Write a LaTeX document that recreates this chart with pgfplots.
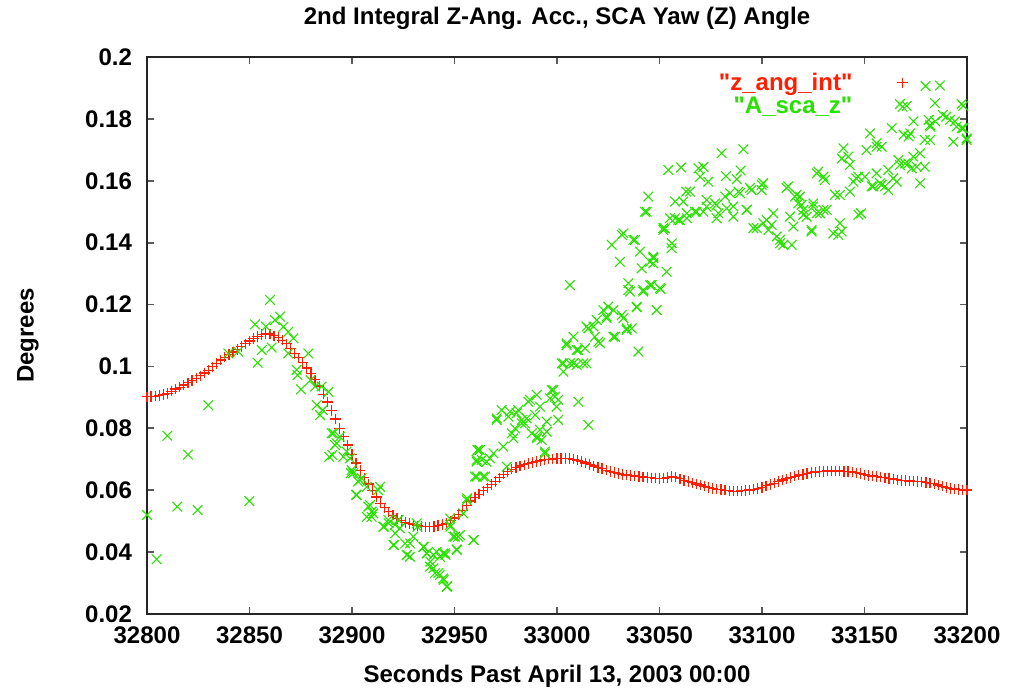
\documentclass[border=0pt]{standalone}
\usepackage{fontspec}
\setmainfont{Liberation Sans}[Ligatures=TeXOff]
\usepackage{pgfplots}
\usepackage{pgfplotstable}
\pgfplotsset{compat=1.18}
\definecolor{zred}{RGB}{255,30,0}
\definecolor{zgreen}{RGB}{40,225,0}

\pgfplotstableread{
x y
32800 0.0902
32802 0.0903
32804 0.0904
32806 0.0906
32808 0.0909
32810 0.0913
32812 0.0920
32814 0.0927
32816 0.0933
32818 0.0940
32820 0.0947
32822 0.0955
32824 0.0962
32826 0.0970
32828 0.0979
32830 0.0988
32832 0.0999
32834 0.1010
32836 0.1021
32838 0.1030
32840 0.1039
32842 0.1047
32844 0.1055
32846 0.1064
32848 0.1073
32850 0.1082
32852 0.1090
32854 0.1097
32856 0.1103
32858 0.1107
32860 0.1105
32862 0.1099
32864 0.1093
32866 0.1085
32868 0.1073
32870 0.1059
32872 0.1042
32874 0.1028
32876 0.1012
32878 0.0995
32880 0.0976
32882 0.0957
32884 0.0937
32886 0.0910
32888 0.0885
32890 0.0858
32892 0.0830
32894 0.0800
32896 0.0773
32898 0.0746
32900 0.0715
32902 0.0688
32904 0.0664
32906 0.0640
32908 0.0620
32910 0.0600
32912 0.0578
32914 0.0558
32916 0.0543
32918 0.0530
32920 0.0519
32922 0.0509
32924 0.0502
32926 0.0496
32928 0.0492
32930 0.0488
32932 0.0485
32934 0.0483
32936 0.0482
32938 0.0482
32940 0.0483
32942 0.0486
32944 0.0489
32946 0.0493
32948 0.0501
32950 0.0510
32952 0.0522
32954 0.0535
32956 0.0550
32958 0.0565
32960 0.0577
32962 0.0587
32964 0.0598
32966 0.0608
32968 0.0618
32970 0.0628
32972 0.0640
32974 0.0652
32976 0.0661
32978 0.0668
32980 0.0673
32982 0.0678
32984 0.0682
32986 0.0686
32988 0.0690
32990 0.0693
32992 0.0696
32994 0.0698
32996 0.0700
32998 0.0701
33000 0.0702
33002 0.0703
33004 0.0703
33006 0.0702
33008 0.0700
33010 0.0697
33012 0.0693
33014 0.0688
33016 0.0683
33018 0.0678
33020 0.0674
33022 0.0670
33024 0.0665
33026 0.0661
33028 0.0657
33030 0.0654
33032 0.0651
33034 0.0649
33036 0.0647
33038 0.0646
33040 0.0644
33042 0.0643
33044 0.0641
33046 0.0640
33048 0.0639
33050 0.0638
33052 0.0639
33054 0.0641
33056 0.0644
33058 0.0642
33060 0.0637
33062 0.0632
33064 0.0628
33066 0.0624
33068 0.0620
33070 0.0617
33072 0.0613
33074 0.0609
33076 0.0606
33078 0.0603
33080 0.0602
33082 0.0600
33084 0.0598
33086 0.0597
33088 0.0597
33090 0.0598
33092 0.0599
33094 0.0601
33096 0.0603
33098 0.0606
33100 0.0609
33102 0.0614
33104 0.0618
33106 0.0623
33108 0.0628
33110 0.0633
33112 0.0637
33114 0.0641
33116 0.0645
33118 0.0649
33120 0.0651
33122 0.0654
33124 0.0657
33126 0.0659
33128 0.0660
33130 0.0661
33132 0.0662
33134 0.0662
33136 0.0662
33138 0.0662
33140 0.0661
33142 0.0660
33144 0.0659
33146 0.0656
33148 0.0654
33150 0.0650
33152 0.0648
33154 0.0646
33156 0.0644
33158 0.0642
33160 0.0640
33162 0.0638
33164 0.0636
33166 0.0634
33168 0.0632
33170 0.0631
33172 0.0630
33174 0.0629
33176 0.0628
33178 0.0627
33180 0.0625
33182 0.0623
33184 0.0621
33186 0.0617
33188 0.0613
33190 0.0609
33192 0.0606
33194 0.0604
33196 0.0602
33198 0.0601
33200 0.0601
}\zangint

\pgfplotstableread{
x y
32800.0 0.0520
32804.7 0.0377
32809.9 0.0776
32814.8 0.0547
32820.0 0.0715
32824.7 0.0536
32829.9 0.0875
32839.7 0.1042
32844.5 0.1048
32849.9 0.0565
32852.7 0.1136
32854.0 0.1012
32856.0 0.1053
32858.0 0.1129
32860.0 0.1215
32860.8 0.1061
32862.4 0.1150
32864.9 0.1161
32866.5 0.1128
32868.9 0.1112
32871.4 0.1091
32868.9 0.1042
32878.7 0.1042
32873.0 0.0989
32873.4 0.0972
32875.1 0.0926
32879.8 0.0956
32882.0 0.0935
32885.2 0.0935
32888.5 0.0918
32882.8 0.0875
32884.4 0.0843
32885.7 0.0859
32890.1 0.0784
32888.9 0.0708
32891.7 0.0746
32894.1 0.0773
32895.8 0.0708
32899.0 0.0703
32899.4 0.0655
32902.0 0.0585
32903.0 0.0628
32900.6 0.0655
32903.9 0.0633
32908.0 0.0547
32907.2 0.0514
32910.4 0.0525
32913.7 0.0611
32915.3 0.0482
32917.7 0.0504
32920.2 0.0423
32921.0 0.0488
32922.6 0.0504
32925.9 0.0428
32926.7 0.0391
32928.3 0.0385
32929.9 0.0450
32931.6 0.0493
32934.8 0.0417
32936.4 0.0396
32938.0 0.0353
32939.7 0.0391
32940.5 0.0332
32942.9 0.0385
32942.9 0.0326
32944.5 0.0315
32945.4 0.0396
32946.5 0.0290
32947.8 0.0488
32950.2 0.0450
32951.0 0.0409
32952.7 0.0455
32954.3 0.0525
32956.0 0.0568
32959.2 0.0439
32960.0 0.0644
32960.8 0.0698
32961.2 0.0730
32890.9 0.0784
32892.5 0.0752
32890.4 0.0714
32897.4 0.0725
32899.8 0.0665
32902.3 0.0585
32904.7 0.0639
32907.2 0.0611
32908.8 0.0552
32909.6 0.0531
32912.8 0.0600
32909.6 0.0514
32915.6 0.0482
32917.9 0.0493
32921.0 0.0461
32923.4 0.0477
32920.5 0.0423
32926.9 0.0391
32928.3 0.0428
32931.9 0.0482
32935.1 0.0417
32936.6 0.0396
32938.2 0.0369
32941.3 0.0401
32945.6 0.0391
32939.7 0.0348
32942.1 0.0332
32944.7 0.0310
32946.2 0.0288
32948.0 0.0482
32951.2 0.0407
32951.8 0.0450
32956.2 0.0574
32959.4 0.0439
32961.6 0.0730
32963.3 0.0698
32960.8 0.0644
32965.6 0.0692
32964.9 0.0644
32944.5 0.0396
32949.4 0.0450
32947.8 0.0509
32962.4 0.0730
32960.8 0.0692
32967.3 0.0703
32964.0 0.0644
32970.6 0.0832
32973.0 0.0859
32973.8 0.0741
32975.5 0.0676
32978.0 0.0784
32980.3 0.0849
32982.8 0.0816
32985.2 0.0832
32986.8 0.0892
32990.1 0.0773
32991.7 0.0795
32995.0 0.0822
32994.1 0.0719
32997.4 0.0924
32999.0 0.0902
33000.6 0.0827
33003.1 0.1010
33004.7 0.1075
33006.3 0.1263
33008.0 0.1010
33009.6 0.1053
33010.4 0.0886
33012.8 0.1010
33015.3 0.0811
33015.3 0.1123
33017.8 0.1129
33020.2 0.1080
33022.6 0.1182
33024.2 0.1156
33027.5 0.1096
33031.6 0.1166
33034.0 0.1123
33036.5 0.1123
33039.7 0.1048
33026.7 0.1393
33030.7 0.1338
33031.6 0.1425
33034.8 0.1247
33037.2 0.1409
33040.5 0.1371
33041.3 0.1317
33038.9 0.1193
33043.7 0.1500
33045.4 0.1338
33047.0 0.1355
33042.1 0.1247
33045.4 0.1263
33050.2 0.1253
33048.6 0.1182
33053.5 0.1306
33052.7 0.1446
33056.0 0.1398
33055.1 0.1479
33060.0 0.1473
33063.3 0.1495
33068.1 0.1500
33073.0 0.1516
33047.0 0.1333
33034.8 0.1269
33035.6 0.1242
33042.1 0.1242
33046.2 0.1263
33050.6 0.1250
33038.9 0.1191
33025.0 0.1193
33027.5 0.1182
33032.4 0.1156
33019.4 0.1150
33024.2 0.1161
33014.4 0.1129
33018.5 0.1096
33021.0 0.1075
33028.3 0.1096
33034.0 0.1118
33008.0 0.1096
33004.7 0.1069
33010.4 0.1053
33013.7 0.1059
33002.3 0.1010
33003.1 0.0983
33006.3 0.1010
33009.6 0.1005
33014.4 0.1010
32998.2 0.0924
32996.6 0.0897
33000.6 0.0892
32999.8 0.0870
32990.1 0.0908
32986.0 0.0886
32991.7 0.0870
32989.3 0.0843
32981.1 0.0859
32977.1 0.0854
32970.6 0.0827
32976.3 0.0838
32982.8 0.0827
32984.4 0.0816
32979.5 0.0800
32987.7 0.0784
32990.3 0.0768
32995.0 0.0789
32992.5 0.0762
32978.7 0.0768
32969.0 0.0719
32994.1 0.0725
33080.3 0.1689
33090.9 0.1702
33054.3 0.1635
33060.5 0.1643
33069.0 0.1640
33071.4 0.1645
33069.8 0.1613
33073.8 0.1597
33082.4 0.1615
33087.7 0.1605
33089.6 0.1633
33044.5 0.1549
33042.9 0.1500
33051.9 0.1447
33057.6 0.1479
33061.6 0.1533
33064.9 0.1565
33057.6 0.1533
33059.2 0.1473
33063.3 0.1479
33067.3 0.1500
33073.0 0.1538
33077.9 0.1522
33084.4 0.1560
33088.5 0.1565
33082.8 0.1511
33078.7 0.1495
33086.0 0.1484
33077.9 0.1479
33092.5 0.1506
33094.9 0.1570
33100.6 0.1592
33099.8 0.1570
33097.4 0.1447
33095.8 0.1447
33102.3 0.1473
33104.7 0.1457
33105.5 0.1495
33107.2 0.1420
33108.8 0.1409
33110.4 0.1393
33114.5 0.1393
33113.7 0.1484
33115.3 0.1452
33112.0 0.1577
33116.9 0.1555
33119.3 0.1522
33120.2 0.1490
33121.8 0.1484
33124.2 0.1441
33125.0 0.1527
33126.7 0.1624
33038.0 0.1409
33047.0 0.1350
33032.4 0.1430
33063.0 0.1565
33071.4 0.1500
33077.1 0.1527
33082.0 0.1549
33086.0 0.1517
33089.3 0.1560
33094.1 0.1577
33099.8 0.1587
33092.7 0.1506
33100.6 0.1463
33103.1 0.1441
33108.8 0.1398
33112.8 0.1582
33116.1 0.1549
33117.7 0.1527
33120.2 0.1506
33124.2 0.1436
33126.7 0.1495
33130.0 0.1506
33134.8 0.1430
33138.9 0.1436
33127.5 0.1630
33130.0 0.1613
33135.6 0.1555
33138.9 0.1672
33142.1 0.1678
33142.9 0.1651
33144.6 0.1597
33147.0 0.1613
33150.2 0.1613
33148.3 0.1495
33151.0 0.1699
33155.9 0.1721
33158.4 0.1710
33163.3 0.1770
33152.7 0.1753
33161.6 0.1635
33164.0 0.1608
33158.4 0.1587
33154.3 0.1582
33167.3 0.1651
33169.8 0.1656
33171.4 0.1656
33173.0 0.1640
33175.5 0.1645
33177.1 0.1592
33173.8 0.1678
33177.1 0.1689
33169.1 0.1749
33171.5 0.1743
33173.9 0.1792
33181.3 0.1797
33182.1 0.1775
33184.5 0.1792
33179.4 0.1732
33182.0 0.1732
33167.3 0.1848
33170.6 0.1842
33179.8 0.1906
33186.8 0.1908
33184.4 0.1851
33188.2 0.1813
33189.9 0.1807
33191.7 0.1797
33193.3 0.1726
33197.4 0.1848
33197.4 0.1770
33199.8 0.1732
33194.1 0.1792
33051.9 0.1441
33055.9 0.1382
33198.2 0.1842
33194.9 0.1775
33198.2 0.1770
33199.8 0.1737
33182.0 0.1780
33172.3 0.1753
33155.9 0.1710
33139.7 0.1705
33130.7 0.1603
33118.5 0.1549
33145.9 0.1608
33155.9 0.1624
33157.6 0.1592
33153.5 0.1582
33160.0 0.1582
33161.6 0.1570
33165.7 0.1597
33166.5 0.1667
33179.4 0.1645
33142.9 0.1565
33138.0 0.1554
33147.0 0.1490
33138.0 0.1463
33137.2 0.1425
33125.0 0.1517
33128.3 0.1495
33131.6 0.1506
}\ascaz

\begin{document}
\begin{tikzpicture}
\begin{axis}[
  at={(0,0)}, anchor=south west,
  scale only axis,
  width=410pt, height=278.5pt,
  xmin=32800, xmax=33200, ymin=0.02, ymax=0.2,
  xtick={32800,32850,32900,32950,33000,33050,33100,33150,33200},
  ytick={0.02,0.04,0.06,0.08,0.1,0.12,0.14,0.16,0.18,0.2},
  scaled x ticks=false, scaled y ticks=false,
  /pgf/number format/assume math mode=true,
  xticklabel style={/pgf/number format/1000 sep={}, yshift=-3pt},
  yticklabel style={/pgf/number format/fixed, /pgf/number format/precision=2, xshift=-4pt},
  tick label style={font=\fontsize{12}{13}\selectfont\bfseries},
  tick align=inside, tick pos=both,
  major tick length=3.5pt,
  major tick style={line width=0.9pt, black!65},
  axis line style={line width=0.9pt, black!85},
  title={\fontsize{12}{13}\selectfont\bfseries 2nd Integral Z-Ang. Acc., SCA Yaw (Z) Angle},
  every axis title/.style={at={(axis description cs:0.5,1.070)}, anchor=center},
  xlabel={\fontsize{12}{13}\selectfont\bfseries Seconds Past April 13, 2003 00:00},
  every axis x label/.style={at={(axis description cs:0.5,-0.1113)}, anchor=center},
  ylabel={\fontsize{12}{13}\selectfont\bfseries Degrees},
  every axis y label/.style={at={(axis description cs:-0.1451,0.5)}, anchor=center, rotate=90},
  legend plot pos=right,
  legend cell align=right,
  legend style={draw=none, fill=none, at={(rel axis cs:0.9356,0.987)}, anchor=north east,
    font=\fontsize{12}{13}\selectfont\bfseries, row sep=-2pt,
    /tikz/every odd column/.append style={column sep=20.5pt}},
]
\addplot[only marks, mark=+, mark size=2.6pt, color=zred, mark options={line width=0.6pt}] table[x=x,y=y] {\zangint};
\addlegendentry{\textcolor{zred}{"z\_ang\_int"}}
\addplot[only marks, mark=x, mark size=3.4pt, color=zgreen, mark options={line width=0.55pt}] table[x=x,y=y] {\ascaz};
\addlegendentry{\textcolor{zgreen}{"A\_sca\_z"}}
\end{axis}
\pgfresetboundingbox
\path (-73.5pt,-39pt) rectangle (439pt,307pt);
\end{tikzpicture}
\end{document}
